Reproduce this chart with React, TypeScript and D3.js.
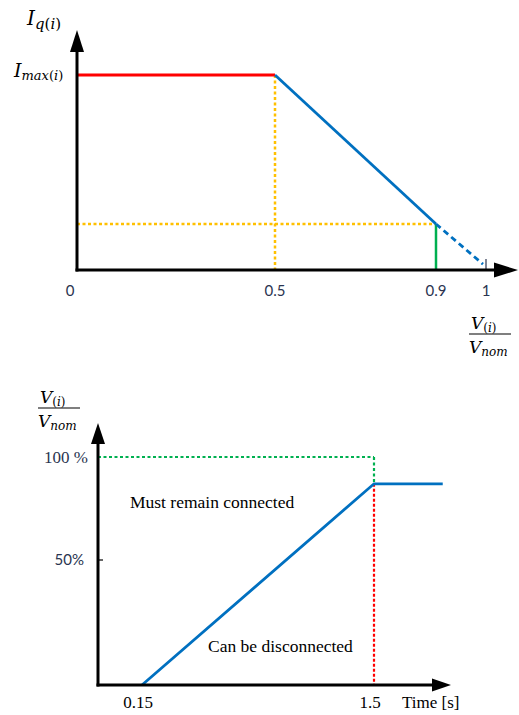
import * as d3 from "d3";

// upper chart: reactive current vs per-unit voltage
const vRatio = [0, 0.5, 0.9, 0.994];
const iqLevel = [1, 1, 0.236, 0.03];
const topTicks = [0, 0.5, 0.9, 1];

// lower chart: ride-through curve
const timeS = [0.15, 1.5, 1.9];
const voltagePct = [0, 87, 87];
const limitPct = 100;
const bottomTicks = [0.15, 1.5];

const RED = "#ff0000";
const BLUE = "#0070c0";
const YELLOW = "#ffc000";
const GREEN = "#00b050";
const LABEL = "#2a3450";
const SERIF = "'Liberation Serif', 'Times New Roman', serif";
const MATH = "'DejaVu Serif', serif";
const SANS = "Lato, 'Open Sans', sans-serif";

function Arrow({ x1, y1, x2, y2, head = 22, half = 7 }: { x1: number; y1: number; x2: number; y2: number; head?: number; half?: number }) {
  const dx = x2 - x1;
  const dy = y2 - y1;
  const len = Math.hypot(dx, dy);
  const ux = dx / len;
  const uy = dy / len;
  const bx = x2 - ux * head;
  const by = y2 - uy * head;
  const pts = [
    [x2, y2],
    [bx - uy * half, by + ux * half],
    [bx + uy * half, by - ux * half],
  ];
  return (
    <g>
      <line x1={x1} y1={y1} x2={bx + ux * 2} y2={by + uy * 2} stroke="#000" strokeWidth={3} />
      <polygon points={pts.map((p) => p.join(",")).join(" ")} fill="#000" />
    </g>
  );
}

function Fraction({ x, y }: { x: number; y: number }) {
  // V(i) / Vnom, x = left edge, y = fraction bar
  return (
    <g fontFamily={MATH} fontStyle="italic" fill="#000">
      <text x={x + 2} y={y - 5} fontSize={17}>
        V<tspan fontSize={12} dy={3} fontStyle="normal">(</tspan>
        <tspan fontSize={12}>i</tspan>
        <tspan fontSize={12} fontStyle="normal">)</tspan>
      </text>
      <line x1={x} x2={x + 42} y1={y} y2={y} stroke="#000" strokeWidth={1.2} />
      <text x={x} y={y + 19} fontSize={17}>
        V<tspan fontSize={12} dy={3}>nom</tspan>
      </text>
    </g>
  );
}

export default function App() {
  const xTop = d3.scaleLinear().domain([0, 0.5, 0.9, 1]).range([77, 275, 436, 486]);
  const yTop = d3.scaleLinear().domain([0, 1]).range([270, 75]);
  const xBot = d3.scaleLinear().domain([0, 0.15, 1.5]).range([98, 142, 374]);
  const yBot = d3.scaleLinear().domain([0, 50, 100]).range([685, 560, 457]);

  const topPts: [number, number][] = vRatio.map((v, i) => [xTop(v), yTop(iqLevel[i])]);
  const line = d3.line();
  const botPts: [number, number][] = timeS.map((t, i) => [xBot(t), yBot(voltagePct[i])]);

  const kneeV = vRatio[2];
  const kneeI = iqLevel[2];

  return (
    <svg width={519} height={715} style={{ position: "absolute", left: 0, top: 0, background: "#fff" }}>
      {/* ---------- upper chart ---------- */}
      <line x1={xTop(0.5)} x2={xTop(0.5)} y1={yTop(1)} y2={yTop(0)} stroke={YELLOW} strokeWidth={2.5} strokeDasharray="3,2.5" />
      <line x1={xTop(0)} x2={xTop(kneeV)} y1={yTop(kneeI)} y2={yTop(kneeI)} stroke={YELLOW} strokeWidth={2.5} strokeDasharray="3,2.5" />
      <line x1={xTop(kneeV)} x2={xTop(kneeV)} y1={yTop(kneeI)} y2={yTop(0)} stroke={GREEN} strokeWidth={2.5} />
      <path d={line(topPts.slice(0, 2)) ?? ""} stroke={RED} strokeWidth={3} fill="none" />
      <path d={line(topPts.slice(1, 3)) ?? ""} stroke={BLUE} strokeWidth={2.8} fill="none" />
      <path d={line(topPts.slice(2, 4)) ?? ""} stroke={BLUE} strokeWidth={2.8} fill="none" strokeDasharray="6,4" />
      <line x1={xTop(1)} x2={xTop(1)} y1={yTop(0) - 11} y2={yTop(0)} stroke={LABEL} strokeWidth={1.2} />
      <Arrow x1={xTop(0)} y1={yTop(0) + 1.5} x2={xTop(0)} y2={30} />
      <Arrow x1={xTop(0) - 1.5} y1={yTop(0)} x2={518} y2={yTop(0)} head={24} half={7.5} />

      {topTicks.map((t) => (
        <text key={t} x={t === 0 ? xTop(t) - 7 : xTop(t)} y={296} textAnchor="middle" fontFamily={SANS} fontSize={15} fill={LABEL}>
          {t}
        </text>
      ))}

      <text x={27} y={25} fontFamily={MATH} fontStyle="italic" fontSize={20} fill="#000">
        I<tspan fontSize={15} dy={4}>q</tspan>
        <tspan fontSize={15} fontStyle="normal">(</tspan>
        <tspan fontSize={15}>i</tspan>
        <tspan fontSize={15} fontStyle="normal">)</tspan>
      </text>
      <text x={14} y={77} fontFamily={MATH} fontStyle="italic" fontSize={19} fill="#000">
        I<tspan fontSize={13} dy={3}>max</tspan>
        <tspan fontSize={13} fontStyle="normal">(</tspan>
        <tspan fontSize={13}>i</tspan>
        <tspan fontSize={13} fontStyle="normal">)</tspan>
      </text>
      <Fraction x={469} y={334} />

      {/* ---------- lower chart ---------- */}
      <line x1={xBot(0)} x2={xBot(timeS[1])} y1={yBot(limitPct)} y2={yBot(limitPct)} stroke={GREEN} strokeWidth={2.2} strokeDasharray="3,2.5" />
      <line x1={xBot(timeS[1])} x2={xBot(timeS[1])} y1={yBot(limitPct)} y2={yBot(voltagePct[1])} stroke={GREEN} strokeWidth={2.2} strokeDasharray="3,2.5" />
      <line x1={xBot(timeS[1])} x2={xBot(timeS[1])} y1={yBot(voltagePct[1])} y2={yBot(0)} stroke={RED} strokeWidth={2.2} strokeDasharray="3,2" />
      <path d={line(botPts) ?? ""} stroke={BLUE} strokeWidth={2.8} fill="none" />
      <line x1={xBot(0)} x2={xBot(0) + 5} y1={yBot(50)} y2={yBot(50)} stroke="#000" strokeWidth={1.2} />
      <Arrow x1={xBot(0)} y1={yBot(0) + 1.5} x2={xBot(0)} y2={423} head={21} half={7} />
      <Arrow x1={xBot(0) - 1.5} y1={yBot(0)} x2={451} y2={yBot(0)} head={19} half={6.5} />

      {bottomTicks.map((t) => (
        <text key={t} x={xBot(t) - 4} y={708} textAnchor="middle" fontFamily={SERIF} fontSize={17} fill="#000">
          {t}
        </text>
      ))}
      <text x={402} y={708} fontFamily={SERIF} fontSize={17} fill="#000">Time [s]</text>
      <text x={88} y={yBot(limitPct) + 6} textAnchor="end" fontFamily={SERIF} fontSize={17} fill={LABEL}>100 %</text>
      <text x={84} y={yBot(50) + 5} textAnchor="end" fontFamily={SANS} fontSize={15} fill={LABEL}>50%</text>
      <text x={130} y={508} fontFamily={SERIF} fontSize={17.5} fill="#000">Must remain connected</text>
      <text x={208} y={652} fontFamily={SERIF} fontSize={17.5} fill="#000">Can be disconnected</text>
      <Fraction x={38} y={408} />
    </svg>
  );
}
